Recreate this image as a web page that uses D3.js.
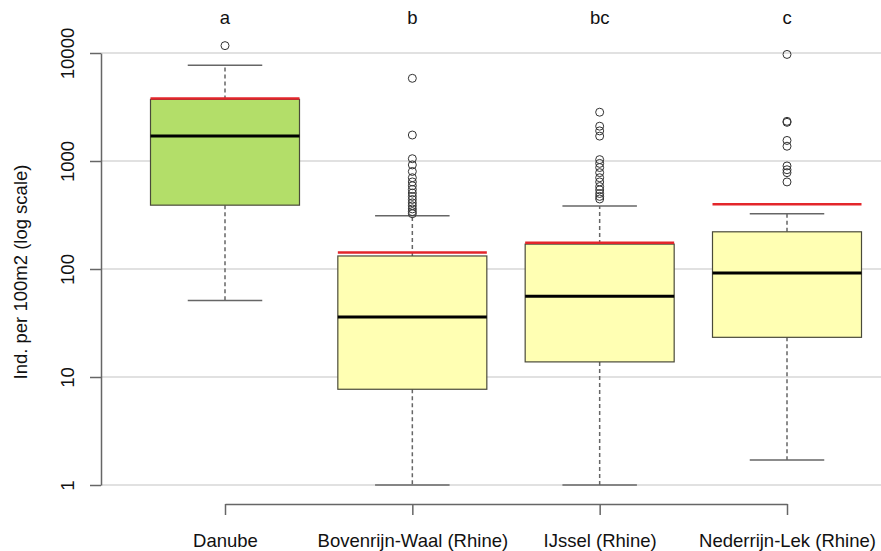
<!DOCTYPE html>
<html>
<head>
<meta charset="utf-8">
<script src="https://cdn.jsdelivr.net/npm/d3@7"></script>
<style>
  html, body { margin: 0; padding: 0; background: #fff; }
  svg text { font-family: "Liberation Sans", Arial, sans-serif; fill: #111; }
</style>
</head>
<body>
<svg id="chart" width="881" height="551"></svg>
<script>
// Sites and their summary statistics (individuals per 100 m2)
const categories = ["Danube", "Bovenrijn-Waal (Rhine)", "IJssel (Rhine)", "Nederrijn-Lek (Rhine)"];
const groupLetters = ["a", "b", "bc", "c"];
const lowerWhisker = [51, 1, 1, 1.7];
const q1 = [390, 7.7, 13.8, 23.3];
const median = [1700, 36, 56, 92];
const q3 = [3720, 132, 170, 221];
const upperWhisker = [7700, 311, 383, 325];
const referenceLevel = [3800, 142, 175, 397];
const outliers = [
  [11700],
  [5830, 1740, 1050, 920, 800, 700, 640, 590, 545, 505, 470, 440, 410, 385, 360, 340, 325],
  [2830, 2100, 1900, 1700, 1030, 950, 870, 780, 700, 640, 580, 540, 500, 470, 445],
  [9700, 2330, 2280, 1550, 1370, 900, 830, 780, 640]
];
const yTicks = [1, 10, 100, 1000, 10000];

const svg = d3.select("#chart");
const fillColors = ["#b3de69", "#ffffb3", "#ffffb3", "#ffffb3"];
const fontSize = "18.5px";

const x = d3.scalePoint().domain(categories).range([225, 787]);
const y = d3.scaleLog().domain([1, 10000]).range([485, 53]);
const boxW = 149;

// horizontal grid lines
svg.append("g").selectAll("line").data(yTicks).join("line")
  .attr("x1", 101).attr("x2", 881)
  .attr("y1", d => y(d)).attr("y2", d => y(d))
  .attr("stroke", "#c4c4c4").attr("stroke-width", 1.2);

// y axis
const yAxis = svg.append("g").attr("transform", "translate(101,0)")
  .call(d3.axisLeft(y).tickValues(yTicks).tickFormat(d3.format("d")).tickSize(11).tickSizeOuter(0));
yAxis.select(".domain").attr("stroke", "#666").attr("stroke-width", 1.5);
yAxis.selectAll(".tick line").attr("stroke", "#666").attr("stroke-width", 1.5);
yAxis.selectAll(".tick text")
  .attr("x", 0).attr("y", 0).attr("dy", null)
  .attr("transform", "translate(-34,0) rotate(-90)")
  .attr("text-anchor", "middle")
  .attr("dominant-baseline", "central")
  .style("font-size", fontSize).style("fill", "#111");

svg.append("text")
  .attr("transform", "translate(20,272) rotate(-90)")
  .attr("text-anchor", "middle").attr("dominant-baseline", "central")
  .style("font-size", fontSize)
  .text("Ind. per 100m2 (log scale)");

// x axis
const xAxis = svg.append("g").attr("transform", "translate(0,504)")
  .call(d3.axisBottom(x).tickSize(11).tickSizeOuter(0));
xAxis.select(".domain").attr("stroke", "#666").attr("stroke-width", 1.5);
xAxis.selectAll(".tick line").attr("stroke", "#666").attr("stroke-width", 1.5);
xAxis.selectAll(".tick text").attr("y", 36).attr("dy", null)
  .attr("dominant-baseline", "central")
  .style("font-size", fontSize).style("fill", "#111");

// boxplots
const groups = svg.append("g").selectAll("g").data(categories).join("g");

groups.append("line") // lower whisker
  .attr("x1", d => x(d)).attr("x2", d => x(d))
  .attr("y1", (d, i) => y(q1[i])).attr("y2", (d, i) => y(lowerWhisker[i]))
  .attr("stroke", "#666").attr("stroke-width", 1.5).attr("stroke-dasharray", "4,3");
groups.append("line") // upper whisker
  .attr("x1", d => x(d)).attr("x2", d => x(d))
  .attr("y1", (d, i) => y(q3[i])).attr("y2", (d, i) => y(upperWhisker[i]))
  .attr("stroke", "#666").attr("stroke-width", 1.5).attr("stroke-dasharray", "4,3");
groups.append("line") // lower cap
  .attr("x1", d => x(d) - boxW / 4).attr("x2", d => x(d) + boxW / 4)
  .attr("y1", (d, i) => y(lowerWhisker[i])).attr("y2", (d, i) => y(lowerWhisker[i]))
  .attr("stroke", "#666").attr("stroke-width", 1.5);
groups.append("line") // upper cap
  .attr("x1", d => x(d) - boxW / 4).attr("x2", d => x(d) + boxW / 4)
  .attr("y1", (d, i) => y(upperWhisker[i])).attr("y2", (d, i) => y(upperWhisker[i]))
  .attr("stroke", "#666").attr("stroke-width", 1.5);

groups.append("rect")
  .attr("x", d => x(d) - boxW / 2).attr("width", boxW)
  .attr("y", (d, i) => y(q3[i])).attr("height", (d, i) => y(q1[i]) - y(q3[i]))
  .attr("fill", (d, i) => fillColors[i])
  .attr("stroke", "#4a4a3a").attr("stroke-width", 1.2);

groups.append("line") // median
  .attr("x1", d => x(d) - boxW / 2).attr("x2", d => x(d) + boxW / 2)
  .attr("y1", (d, i) => y(median[i])).attr("y2", (d, i) => y(median[i]))
  .attr("stroke", "#000").attr("stroke-width", 3);

groups.append("line") // reference level
  .attr("x1", d => x(d) - boxW / 2).attr("x2", d => x(d) + boxW / 2)
  .attr("y1", (d, i) => y(referenceLevel[i])).attr("y2", (d, i) => y(referenceLevel[i]))
  .attr("stroke", "#e3262b").attr("stroke-width", 2.5);

groups.each(function (d, i) {
  d3.select(this).selectAll("circle").data(outliers[i]).join("circle")
    .attr("cx", x(d)).attr("cy", v => y(v)).attr("r", 4)
    .attr("fill", "none").attr("stroke", "#333").attr("stroke-width", 1);
});

// group letters
svg.append("g").selectAll("text").data(categories).join("text")
  .attr("x", d => x(d)).attr("y", 17)
  .attr("text-anchor", "middle").attr("dominant-baseline", "central")
  .style("font-size", fontSize)
  .text((d, i) => groupLetters[i]);
</script>
</body>
</html>
